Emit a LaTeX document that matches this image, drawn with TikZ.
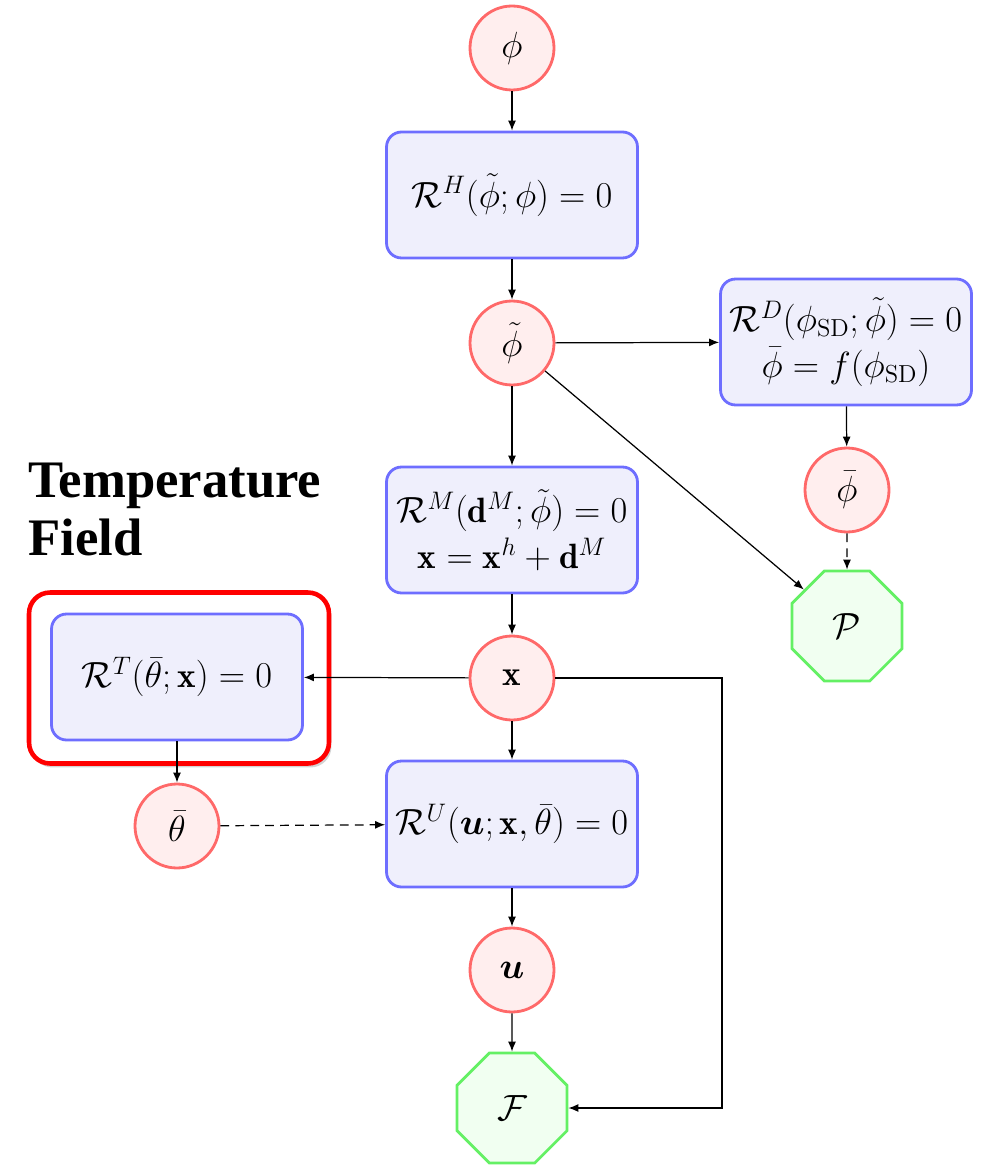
\documentclass[tikz,border=0pt]{standalone}
\usepackage{amsmath,bm}
\usepackage{fontspec}
\newfontfamily\titlefont{Liberation Serif}
\usetikzlibrary{arrows.meta,shapes.geometric,shadows}
\definecolor{cdraw}{RGB}{255,105,105}
\definecolor{cfill}{RGB}{255,238,238}
\definecolor{bdraw}{RGB}{110,110,255}
\definecolor{bfill}{RGB}{239,239,252}
\definecolor{gdraw}{RGB}{100,240,100}
\definecolor{gfill}{RGB}{241,255,241}
\tikzset{
  varnode/.style={circle,draw=cdraw,fill=cfill,line width=1.6pt,minimum size=1.68cm,inner sep=0pt,font=\fontsize{20}{24}\selectfont},
  eqbox/.style={rectangle,rounded corners=0.3cm,draw=bdraw,fill=bfill,line width=1.6pt,minimum width=5.02cm,minimum height=2.52cm,inner sep=0pt,align=center,font=\fontsize{20}{23}\selectfont},
  objnode/.style={regular polygon,regular polygon sides=8,draw=gdraw,fill=gfill,line width=1.6pt,minimum size=2.38cm,inner sep=0pt,font=\fontsize{20}{24}\selectfont},
  arr/.style={-{Latex[length=2mm,width=1.6mm]},line width=0.7pt,black},
  darr/.style={arr,dashed,dash pattern=on 5pt off 3.5pt},
}
\begin{document}
\begin{tikzpicture}[x=0.02cm,y=-0.02cm]
\useasboundingbox (0,0) rectangle (984,1165);
% highlight
\node[rectangle,rounded corners=0.42cm,draw=red,fill=white,line width=2.6pt,minimum width=6.0cm,minimum height=3.42cm,drop shadow={opacity=0.35,shadow xshift=0.05cm,shadow yshift=-0.08cm}] (hl) at (179,678) {};
\node[anchor=base west,font=\titlefont\bfseries\fontsize{30}{36}\selectfont,inner sep=0pt] (t1) at (28,497) {Temperature};
\node[anchor=base west,font=\titlefont\bfseries\fontsize{30}{36}\selectfont,inner sep=0pt] (t2) at (28,555) {Field};
% nodes
\node[varnode] (phi) at (512,48) {$\phi$};
\node[eqbox] (RH) at (512,195) {$\mathcal{R}^H(\tilde{\phi};\phi) = 0$};
\node[varnode] (pt) at (512,343) {$\tilde{\phi}$};
\node[eqbox] (RD) at (846,342) {$\mathcal{R}^D(\phi_{\mathrm{SD}};\tilde{\phi}) = 0$\\[3pt]$\bar{\phi} = f(\phi_{\mathrm{SD}})$};
\node[varnode] (pb) at (847,490) {$\bar{\phi}$};
\node[objnode] (P) at (847,626) {$\mathcal{P}$};
\node[eqbox] (RM) at (512,530) {$\mathcal{R}^M(\mathbf{d}^M;\tilde{\phi}) = 0$\\[3pt]$\mathbf{x} = \mathbf{x}^h + \mathbf{d}^M$};
\node[varnode] (x) at (512,678) {$\mathbf{x}$};
\node[eqbox] (RT) at (177,677) {$\mathcal{R}^T(\bar{\theta};\mathbf{x}) = 0$};
\node[varnode] (tb) at (177,826) {$\bar{\theta}$};
\node[eqbox] (RU) at (512,824) {$\mathcal{R}^U(\bm{u};\mathbf{x},\bar{\theta}) = 0$};
\node[varnode] (u) at (512,970) {$\bm{u}$};
\node[objnode] (F) at (512,1108) {$\mathcal{F}$};
\coordinate (c1) at (722,678);
% edges
\draw[arr] (phi) -- (RH);
\draw[arr] (RH) -- (pt);
\draw[arr] (pt) -- (RD);
\draw[arr] (pt) -- (RM);
\draw[arr] (pt) -- (P);
\draw[arr] (RD) -- (pb);
\draw[darr] (pb) -- (P);
\draw[arr] (RM) -- (x);
\draw[arr] (x) -- (RT);
\draw[arr] (x) -- (RU);
\draw[arr] (x.east) -- (c1) |- (F.east);
\draw[arr] (RT) -- (tb);
\draw[darr] (tb) -- (RU);
\draw[arr] (RU) -- (u);
\draw[arr] (u) -- (F);
\end{tikzpicture}
\end{document}
